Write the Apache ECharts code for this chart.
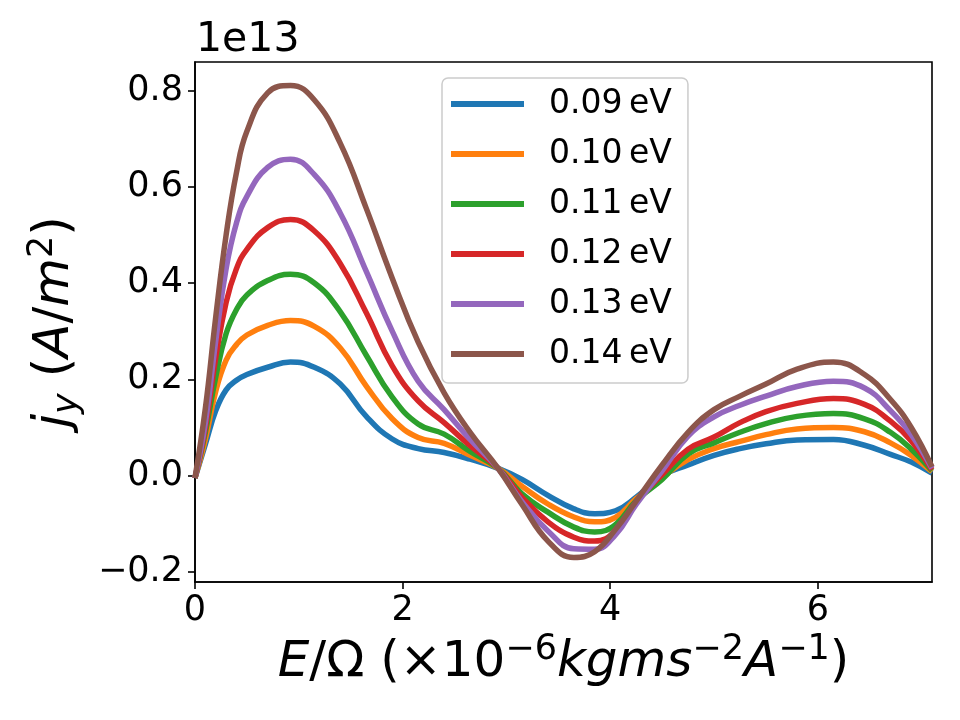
<!DOCTYPE html>
<html>
<head>
<meta charset="utf-8">
<script src="https://cdn.jsdelivr.net/npm/echarts@6/dist/echarts.min.js"></script>
</head>
<body style="margin:0;background:#fff;">
<div id="main" style="width:960px;height:720px;"></div>
<script type="text/javascript">
// E/Omega sample points (x axis)
var xVals = [0, 0.1, 0.2, 0.3, 0.4, 0.5, 0.7, 0.92, 1.15, 1.4, 1.65, 1.9, 2.15, 2.4, 2.65, 2.92,
             3.15, 3.4, 3.65, 3.85, 4.05, 4.25, 4.5, 4.75, 5.0, 5.25, 5.5, 5.8, 6.15, 6.45, 6.7, 6.9, 7.1];
// j_y values, units of 1e13 A/m^2
var j009 = [-0.005, 0.065, 0.135, 0.178, 0.198, 0.21, 0.225, 0.236, 0.225, 0.19, 0.123, 0.076, 0.056, 0.048, 0.034, 0.015,
            -0.008, -0.041, -0.069, -0.079, -0.073, -0.045, 0.0, 0.022, 0.042, 0.056, 0.066, 0.074, 0.075, 0.063, 0.044, 0.028, 0.005];
var j010 = [-0.005, 0.075, 0.175, 0.24, 0.272, 0.292, 0.312, 0.322, 0.31, 0.265, 0.186, 0.118, 0.079, 0.067, 0.042, 0.015,
            -0.022, -0.059, -0.086, -0.096, -0.087, -0.048, -0.004, 0.033, 0.056, 0.071, 0.085, 0.097, 0.10, 0.091, 0.068, 0.042, 0.008];
var j011 = [-0.005, 0.09, 0.205, 0.295, 0.345, 0.375, 0.405, 0.418, 0.40, 0.34, 0.25, 0.163, 0.107, 0.086, 0.05, 0.015,
            -0.038, -0.076, -0.107, -0.117, -0.102, -0.052, -0.008, 0.045, 0.068, 0.09, 0.108, 0.123, 0.129, 0.118, 0.09, 0.055, 0.01];
var j012 = [-0.005, 0.10, 0.245, 0.36, 0.43, 0.47, 0.515, 0.532, 0.508, 0.44, 0.338, 0.228, 0.155, 0.11, 0.062, 0.015,
            -0.045, -0.096, -0.128, -0.136, -0.115, -0.055, 0.002, 0.055, 0.08, 0.11, 0.133, 0.15, 0.16, 0.148, 0.113, 0.072, 0.012];
var j013 = [-0.005, 0.11, 0.28, 0.43, 0.525, 0.58, 0.64, 0.657, 0.625, 0.545, 0.424, 0.30, 0.196, 0.137, 0.075, 0.015,
            -0.054, -0.115, -0.152, -0.153, -0.123, -0.06, 0.01, 0.082, 0.122, 0.146, 0.165, 0.185, 0.196, 0.182, 0.135, 0.085, 0.015];
var j014 = [-0.005, 0.14, 0.33, 0.50, 0.63, 0.715, 0.795, 0.81, 0.78, 0.69, 0.555, 0.41, 0.277, 0.172, 0.09, 0.015,
            -0.06, -0.136, -0.170, -0.158, -0.112, -0.053, 0.022, 0.09, 0.137, 0.165, 0.19, 0.221, 0.236, 0.21, 0.158, 0.10, 0.018];
var seriesNames = ['0.09\u2009eV', '0.10\u2009eV', '0.11\u2009eV', '0.12\u2009eV', '0.13\u2009eV', '0.14\u2009eV'];
var seriesVals = [j009, j010, j011, j012, j013, j014];
var colors = ['#1f77b4', '#ff7f0e', '#2ca02c', '#d62728', '#9467bd', '#8c564b'];
var xTicks = [0, 2, 4, 6];
var yTicks = [-0.2, 0.0, 0.2, 0.4, 0.6, 0.8];

var font = 'DejaVu Sans';
var series = [];
for (var s = 0; s < seriesVals.length; s++) {
    var pts = [];
    for (var i = 0; i < xVals.length; i++) pts.push([xVals[i], seriesVals[s][i]]);
    series.push({
        name: seriesNames[s],
        type: 'line',
        smooth: 0.45,
        showSymbol: false,
        symbol: 'none',
        lineStyle: {width: 5.5, color: colors[s]},
        itemStyle: {color: colors[s]},
        data: pts
    });
}

var myChart = echarts.init(document.getElementById('main'));
var option = {
    animation: false,
    backgroundColor: '#fff',
    color: colors,
    title: {
        text: '1e13', left: 191, top: 15,
        textStyle: {fontFamily: font, fontSize: 41, fontWeight: 'normal', color: '#000'}
    },
    grid: {left: 195, top: 62, width: 737, height: 520, show: true, borderColor: '#000', borderWidth: 1.6},
    legend: {
        orient: 'vertical', left: 442, top: 78,
        data: seriesNames,
        icon: 'rect', itemWidth: 73, itemHeight: 6, itemGap: 14,
        padding: [8, 16, 11, 9],
        backgroundColor: 'rgba(255,255,255,0.85)',
        borderColor: '#cccccc', borderWidth: 1.5, borderRadius: 6,
        textStyle: {fontFamily: font, fontSize: 33, color: '#000', lineHeight: 36, padding: [0, 0, 0, 20]}
    },
    xAxis: {
        type: 'value', min: 0, max: 7.1,
        axisLine: {show: true, onZero: false, lineStyle: {color: '#000', width: 1.6}},
        axisTick: {show: true, length: 7, lineStyle: {color: '#000', width: 1.6}, customValues: xTicks},
        axisLabel: {fontFamily: font, fontSize: 35, color: '#000', margin: 11, customValues: xTicks},
        splitLine: {show: false},
        name: '{i|E}/Ω (×10{s|−6}{i|kgms}{s|−2}{i|A}{s|−1})',
        nameLocation: 'middle', nameGap: 46,
        nameTextStyle: {
            fontFamily: font, fontSize: 50, color: '#000', lineHeight: 60,
            rich: {
                i: {fontFamily: font, fontSize: 50, fontStyle: 'italic', color: '#000', lineHeight: 60},
                s: {fontFamily: font, fontSize: 35, color: '#000', verticalAlign: 'top', lineHeight: 36}
            }
        }
    },
    yAxis: {
        type: 'value', min: -0.221, max: 0.859,
        axisLine: {show: true, onZero: false, lineStyle: {color: '#000', width: 1.6}},
        axisTick: {show: true, length: 7, lineStyle: {color: '#000', width: 1.6}, customValues: yTicks},
        axisLabel: {
            fontFamily: font, fontSize: 35, color: '#000', margin: 12, customValues: yTicks,
            formatter: function (v) { return (v < 0 ? '\u2212' : '') + Math.abs(v).toFixed(1); }
        },
        splitLine: {show: false},
        name: '{i|j}{b|y} ({i|A}/{i|m}{s|2})',
        nameLocation: 'middle', nameGap: 110, nameRotate: 90,
        nameTextStyle: {
            fontFamily: font, fontSize: 50, color: '#000', lineHeight: 60,
            rich: {
                i: {fontFamily: font, fontSize: 50, fontStyle: 'italic', color: '#000', lineHeight: 60},
                b: {fontFamily: font, fontSize: 35, fontStyle: 'italic', color: '#000', verticalAlign: 'bottom', lineHeight: 44},
                s: {fontFamily: font, fontSize: 35, color: '#000', verticalAlign: 'top', lineHeight: 36}
            }
        }
    },
    series: series
};
myChart.setOption(option);
</script>
</body>
</html>
